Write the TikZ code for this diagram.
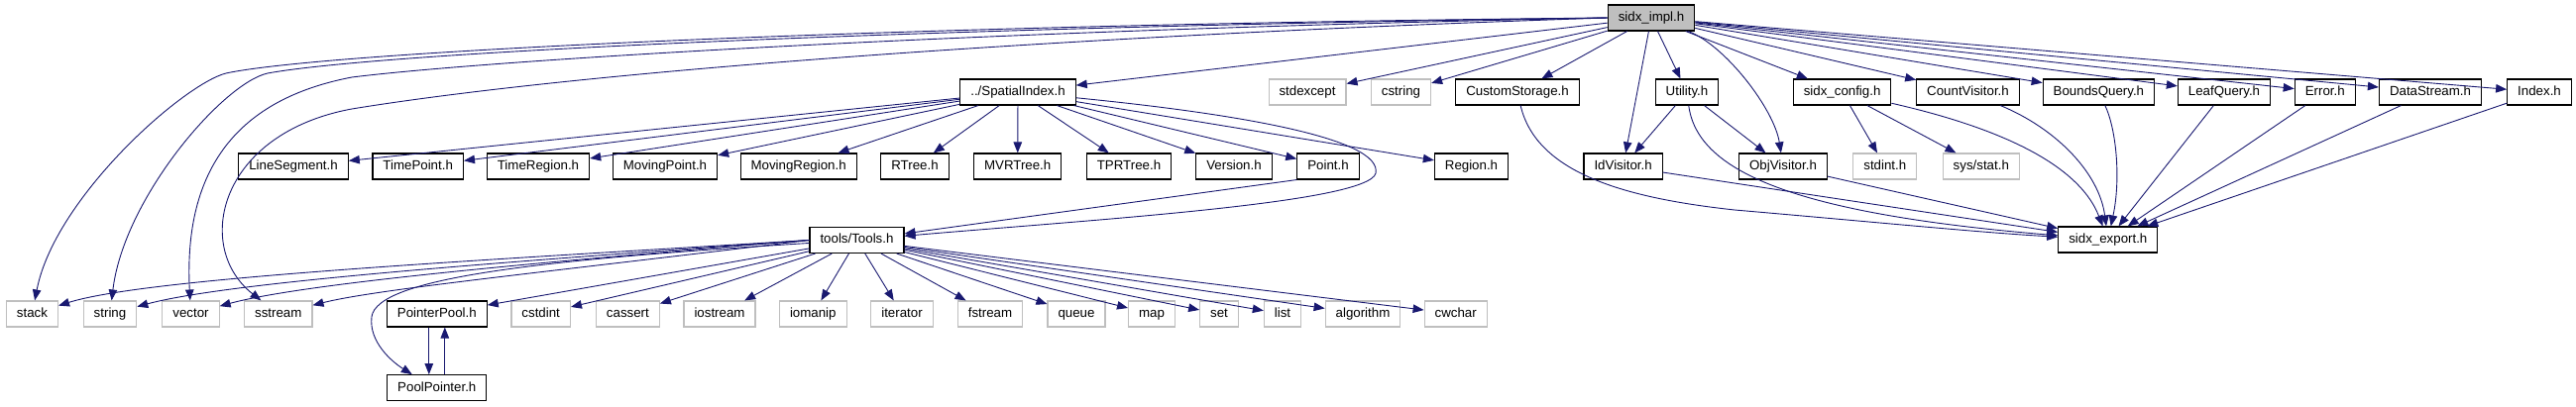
\documentclass[tikz,border=0pt]{standalone}
\usepackage{fontspec}
\setmainfont{Liberation Sans}
\usetikzlibrary{arrows.meta}
\definecolor{edgeblue}{HTML}{191970}
\definecolor{boxgray}{HTML}{BFBFBF}

\begin{document}
\begin{tikzpicture}[x=1pt, y=-1pt, >={Triangle[length=11pt,width=8.5pt]},
                    hdr/.style={draw=black, fill=white, line width=1.1pt, minimum height=26pt,
                                inner xsep=10.5pt, inner ysep=0pt, text height=9.6pt, text depth=2.6pt,
                                font=\fontsize{13.3}{15}\selectfont},
                    syshdr/.style={hdr, draw=boxgray},
                    mainhdr/.style={hdr, fill=boxgray},
                    dep/.style={->, edgeblue, line width=0.9pt}]
                    \useasboundingbox (0,0) rectangle (2599,411);

                    % Root file
                    \node[mainhdr] (impl) at (1666,18) {sidx\_impl.h};

                    % Direct includes
                    \node[hdr]    (spatial)    at (1027,93)   {../SpatialIndex.h};
                    \node[syshdr] (stdexcept)  at (1319,93)   {stdexcept};
                    \node[syshdr] (cstring)    at (1413.5,93) {cstring};
                    \node[hdr]    (custom)     at (1531,93)   {CustomStorage.h};
                    \node[hdr]    (utility)    at (1702,93)   {Utility.h};
                    \node[hdr]    (config)     at (1858.6,93) {sidx\_config.h};
                    \node[hdr]    (countvis)   at (1985.5,93) {CountVisitor.h};
                    \node[hdr]    (boundsq)    at (2117.4,93) {BoundsQuery.h};
                    \node[hdr]    (leafq)      at (2244,93)   {LeafQuery.h};
                    \node[hdr]    (error)      at (2345.7,93) {Error.h};
                    \node[hdr]    (datastream) at (2452,93)   {DataStream.h};
                    \node[hdr]    (index)      at (2562,93)   {Index.h};

                    % Second level
                    \node[hdr]    (lineseg)    at (296,168)    {LineSegment.h};
                    \node[hdr]    (timepoint)  at (421.7,168)  {TimePoint.h};
                    \node[hdr]    (timeregion) at (543,168)    {TimeRegion.h};
                    \node[hdr]    (movpoint)   at (671,168)    {MovingPoint.h};
                    \node[hdr]    (movregion)  at (805.6,168)  {MovingRegion.h};
                    \node[hdr]    (rtree)      at (923,168)    {RTree.h};
                    \node[hdr]    (mvrtree)    at (1026.7,168) {MVRTree.h};
                    \node[hdr]    (tprtree)    at (1139,168)   {TPRTree.h};
                    \node[hdr]    (version)    at (1245,168)   {Version.h};
                    \node[hdr]    (point)      at (1340,168)   {Point.h};
                    \node[hdr]    (region)     at (1484.5,168) {Region.h};
                    \node[hdr]    (idvis)      at (1637.6,168) {IdVisitor.h};
                    \node[hdr]    (objvis)     at (1799,168)   {ObjVisitor.h};
                    \node[syshdr] (stdint)     at (1901.8,168) {stdint.h};
                    \node[syshdr] (sysstat)    at (1998.8,168) {sys/stat.h};

                    % Third level
                    \node[hdr]    (tools)      at (864.5,242.5) {tools/Tools.h};
                    \node[hdr]    (export)     at (2126.8,242)  {sidx\_export.h};

                    % Standard headers and pools
                    \node[syshdr] (stack)      at (32.5,317)   {stack};
                    \node[syshdr] (string)     at (111,317)    {string};
                    \node[syshdr] (vector)     at (192.5,317)  {vector};
                    \node[syshdr] (sstream)    at (280.8,317)  {sstream};
                    \node[hdr]    (ptrpool)    at (440.8,317)  {PointerPool.h};
                    \node[syshdr] (cstdint)    at (545.7,317)  {cstdint};
                    \node[syshdr] (cassert)    at (633.4,317)  {cassert};
                    \node[syshdr] (iostream)   at (726,317)    {iostream};
                    \node[syshdr] (iomanip)    at (820.3,317)  {iomanip};
                    \node[syshdr] (iterator)   at (910,317)    {iterator};
                    \node[syshdr] (fstream)    at (999,317)    {fstream};
                    \node[syshdr] (queue)      at (1086,317)   {queue};
                    \node[syshdr] (map)        at (1162,317)   {map};
                    \node[syshdr] (set)        at (1230,317)   {set};
                    \node[syshdr] (list)       at (1294,317)   {list};
                    \node[syshdr] (algorithm)  at (1375,317)   {algorithm};
                    \node[syshdr] (cwchar)     at (1468.7,317) {cwchar};
                    \node[hdr]    (poolptr)    at (440.8,391.7) {PoolPointer.h};

                    % sidx_impl.h -> std headers (long way round)
                    \draw[dep] (impl.west) .. controls (900,25) and (330,52) .. (228,74)
                               .. controls (185,85) and (55,200) .. (stack);
                    \draw[dep] (impl.west) .. controls (950,27) and (390,52) .. (270,74)
                               .. controls (225,84) and (125,200) .. (string);
                    \draw[dep] (impl.west) .. controls (1000,30) and (500,60) .. (355,78)
                               .. controls (240,100) and (185,170) .. (vector);
                    \draw[dep] (impl.west) .. controls (1100,35) and (600,70) .. (355,110)
                               .. controls (220,135) and (195,250) .. (sstream);

                    % sidx_impl.h -> first row
                    \foreach \dst in {spatial, stdexcept, cstring, custom, utility, config,
                                      countvis, boundsq, leafq, error, datastream, index}
                        \draw[dep] (impl) -- (\dst);
                    \draw[dep] (impl) -- (idvis);
                    \draw[dep] (impl) .. controls (1740,45) and (1790,110) .. (objvis);

                    % Utility.h
                    \draw[dep] (utility) -- (idvis);
                    \draw[dep] (utility) -- (objvis);
                    \draw[dep] (utility) .. controls (1712,170) and (1800,215) .. (export);

                    % into sidx_export.h
                    \draw[dep] (custom) .. controls (1550,175) and (1640,200) .. (1750,212)
                               .. controls (1900,225) and (2000,235) .. (export);
                    \draw[dep] (idvis) -- (export);
                    \draw[dep] (objvis) -- (export);
                    \draw[dep] (config) .. controls (2000,125) and (2095,160) .. (export);
                    \draw[dep] (countvis) .. controls (2075,130) and (2118,175) .. (export);
                    \draw[dep] (boundsq) .. controls (2135,130) and (2140,180) .. (export);
                    \foreach \src in {leafq, error, datastream, index}
                        \draw[dep] (\src) -- (export);

                    % sidx_config.h
                    \draw[dep] (config) -- (stdint);
                    \draw[dep] (config) -- (sysstat);

                    % ../SpatialIndex.h
                    \foreach \dst in {lineseg, timepoint, timeregion, movpoint, movregion,
                                      rtree, mvrtree, tprtree, version, point, region}
                        \draw[dep] (spatial) -- (\dst);
                    \draw[dep] (spatial) .. controls (1250,115) and (1395,140) .. (1388,175)
                               .. controls (1380,205) and (1100,222) .. (tools);
                    \draw[dep] (point.south west) -- (tools);

                    % tools/Tools.h
                    \draw[dep] (tools.west) .. controls (500,262) and (150,280) .. (stack);
                    \draw[dep] (tools.west) .. controls (500,265) and (230,285) .. (string);
                    \draw[dep] (tools.west) .. controls (500,268) and (300,288) .. (vector);
                    \draw[dep] (tools.west) .. controls (550,275) and (380,292) .. (sstream);
                    \draw[dep] (tools) .. controls (550,262) and (380,280) .. (375,320)
                               .. controls (372,345) and (395,365) .. ([xshift=-25]poolptr.north);
                    \foreach \dst in {ptrpool, cstdint, cassert, iostream, iomanip, iterator,
                                      fstream, queue, map, set, list, algorithm, cwchar}
                        \draw[dep] (tools) -- (\dst);

                    % pool cycle
                    \draw[dep] ([xshift=-8]ptrpool.south) -- ([xshift=-8]poolptr.north);
                    \draw[dep] ([xshift=8]poolptr.north) -- ([xshift=8]ptrpool.south);

                \end{tikzpicture}
\end{document}
